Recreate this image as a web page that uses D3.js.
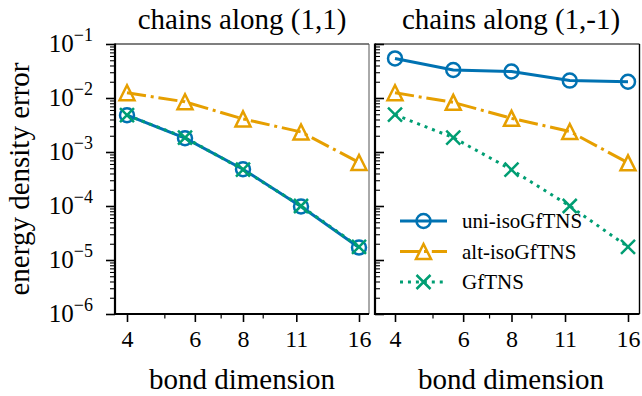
<!DOCTYPE html>
<html>
<head>
<meta charset="utf-8">
<script src="https://cdn.jsdelivr.net/npm/d3@7"></script>
<style>
  html, body { margin: 0; padding: 0; background: #fff; }
  svg { display: block; }
  text { font-family: "Liberation Serif", "Times New Roman", serif; fill: #000; }
</style>
</head>
<body>
<svg id="chart" width="642" height="396"></svg>
<script>
// Bond dimensions (4, 4√2, 8, 8√2, 16)
const bondDims = [4, 5.657, 8, 11.314, 16];
const xTickValues = [4, 6, 8, 11, 16];
const xMinorTicks = [5, 7, 9];
const yTickExponents = [-6, -5, -4, -3, -2, -1];

const seriesNames = ["uni-isoGfTNS", "alt-isoGfTNS", "GfTNS"];
const panelTitles = ["chains along (1,1)", "chains along (1,-1)"];

// energy density error, chains along (1,1)
const uniIso11 = [4.8e-3, 1.8e-3, 4.8e-4, 9.8e-5, 1.7e-5];
const altIso11 = [1.25e-2, 8.5e-3, 4.1e-3, 2.35e-3, 6.4e-4];
const gf11     = [4.8e-3, 1.85e-3, 4.7e-4, 1.0e-4, 1.75e-5];

// energy density error, chains along (1,-1)
const uniIso1m = [5.4e-2, 3.3e-2, 3.1e-2, 2.1e-2, 2.0e-2];
const altIso1m = [1.25e-2, 8.3e-3, 4.2e-3, 2.4e-3, 6.3e-4];
const gf1m     = [4.9e-3, 1.85e-3, 4.7e-4, 1.0e-4, 1.75e-5];

const colors = ["#0072B2", "#E69F00", "#009E73"];
const lw = 3;
const dashes = [null, `${6.4*lw},${1.6*lw},${1*lw},${1.6*lw}`, `${1*lw},${1.65*lw}`];
const markers = ["circle", "triangle", "x"];
const serif = "'Liberation Serif', 'Times New Roman', serif";

const svg = d3.select("#chart");

const yTop = 44, yBot = 314;
const y = d3.scaleLog().domain([1e-6, 1e-1]).range([yBot, yTop]);

const panels = [
  { title: panelTitles[0], left: 115, right: 369, xr: [127, 359], center: 242,
    data: [uniIso11, altIso11, gf11], tickDir: -1, rightW: 1, rightColor: "#555" },
  { title: panelTitles[1], left: 375, right: 639.5, xr: [395, 628], center: 511,
    data: [uniIso1m, altIso1m, gf1m], tickDir: 1, rightW: 1.4, rightColor: "#000" }
];

function drawMarker(g, kind, cx, cy, color) {
  if (kind === "circle") {
    g.append("circle").attr("cx", cx).attr("cy", cy).attr("r", 7)
      .attr("fill", "none").attr("stroke", color).attr("stroke-width", 2.5);
  } else if (kind === "triangle") {
    const s = 7.5;
    g.append("path")
      .attr("d", `M${cx},${cy - s}L${cx - s},${cy + s}L${cx + s},${cy + s}Z`)
      .attr("fill", "none").attr("stroke", color).attr("stroke-width", 2.5)
      .attr("stroke-linejoin", "miter");
  } else {
    const s = 7;
    g.append("path")
      .attr("d", `M${cx - s},${cy - s}L${cx + s},${cy + s}M${cx - s},${cy + s}L${cx + s},${cy - s}`)
      .attr("fill", "none").attr("stroke", color).attr("stroke-width", 2.5);
  }
}

panels.forEach((p, pi) => {
  const g = svg.append("g");
  const x = d3.scaleLog().domain([bondDims[0], bondDims[bondDims.length - 1]]).range(p.xr);

  // x axis: major and minor ticks
  const xAxis = d3.axisBottom(x).tickValues(xTickValues).tickFormat(d3.format("d"))
    .tickSize(8).tickPadding(8);
  const xg = g.append("g").attr("transform", `translate(0,${yBot})`).call(xAxis)
    .attr("font-family", serif).attr("font-size", 24);
  xg.select(".domain").remove();
  xg.selectAll(".tick line").attr("stroke-width", 1.6);
  xg.selectAll(".tick text").attr("font-family", serif).attr("font-size", 24)
    .attr("dy", "0.71em");
  const xMinor = d3.axisBottom(x).tickValues(xMinorTicks).tickFormat("").tickSize(4.5);
  const xmg = g.append("g").attr("transform", `translate(0,${yBot})`).call(xMinor);
  xmg.select(".domain").remove();
  xmg.selectAll(".tick line").attr("stroke-width", 1.2);

  // y axis ticks
  const majorVals = yTickExponents.map(e => Math.pow(10, e));
  const minorVals = [];
  yTickExponents.slice(0, -1).forEach(e => {
    for (let k = 2; k <= 9; k++) minorVals.push(k * Math.pow(10, e));
  });
  const yMajor = (p.tickDir < 0 ? d3.axisLeft(y) : d3.axisRight(y))
    .tickValues(majorVals).tickFormat("").tickSize(9);
  const ymg = g.append("g").attr("transform", `translate(${p.left},0)`).call(yMajor);
  ymg.select(".domain").remove();
  ymg.selectAll(".tick line").attr("stroke-width", 1.6);
  const yMinor = (p.tickDir < 0 ? d3.axisLeft(y) : d3.axisRight(y))
    .tickValues(minorVals).tickFormat("").tickSize(5);
  const ymn = g.append("g").attr("transform", `translate(${p.left},0)`).call(yMinor);
  ymn.select(".domain").remove();
  ymn.selectAll(".tick line").attr("stroke-width", 1.1);

  // y tick labels with superscript exponents (left panel only)
  if (pi === 0) {
    yTickExponents.forEach(e => {
      const t = g.append("text").attr("x", 93).attr("y", y(Math.pow(10, e)) + 8)
        .attr("text-anchor", "end").attr("font-size", 25);
      t.append("tspan").text("10");
      t.append("tspan").attr("dy", -11).attr("font-size", 18).text("\u2212" + Math.abs(e));
    });
  }

  // series lines and markers
  p.data.forEach((vals, si) => {
    const pts = vals.map((v, i) => [x(bondDims[i]), y(v)]);
    g.append("path").datum(pts)
      .attr("d", d3.line())
      .attr("fill", "none").attr("stroke", colors[si]).attr("stroke-width", lw)
      .attr("stroke-dasharray", dashes[si]);
    pts.forEach(([cx, cy]) => drawMarker(g, markers[si], cx, cy, colors[si]));
  });

  // spines
  g.append("line").attr("x1", p.left).attr("x2", p.right).attr("y1", yTop).attr("y2", yTop)
    .attr("stroke", "#000").attr("stroke-width", 1.2);
  g.append("line").attr("x1", p.right).attr("x2", p.right).attr("y1", yTop).attr("y2", yBot)
    .attr("stroke", p.rightColor).attr("stroke-width", p.rightW);
  g.append("line").attr("x1", p.left).attr("x2", p.left).attr("y1", yTop - 0.6).attr("y2", yBot + 1)
    .attr("stroke", "#000").attr("stroke-width", 2.2);
  g.append("line").attr("x1", p.left - 1).attr("x2", p.right).attr("y1", yBot).attr("y2", yBot)
    .attr("stroke", "#000").attr("stroke-width", 2.2);

  // titles and axis labels
  g.append("text").attr("x", p.center).attr("y", 29).attr("text-anchor", "middle")
    .attr("font-size", 29).text(p.title);
  g.append("text").attr("x", p.center).attr("y", 389).attr("text-anchor", "middle")
    .attr("font-size", 29).text("bond dimension");
});

svg.append("text")
  .attr("transform", `translate(29,${(yTop + yBot) / 2}) rotate(-90)`)
  .attr("text-anchor", "middle").attr("font-size", 29)
  .text("energy density error");

// legend (right panel)
const legendRows = [221, 251.5, 282];
const lg = svg.append("g");
seriesNames.forEach((name, si) => {
  const ly = legendRows[si];
  lg.append("line").attr("x1", 400).attr("x2", 447).attr("y1", ly).attr("y2", ly)
    .attr("stroke", colors[si]).attr("stroke-width", lw)
    .attr("stroke-dasharray", dashes[si]);
  drawMarker(lg, markers[si], 423.5, ly, colors[si]);
  lg.append("text").attr("x", 462).attr("y", ly + 7).attr("font-size", 21).text(name);
});
</script>
</body>
</html>
